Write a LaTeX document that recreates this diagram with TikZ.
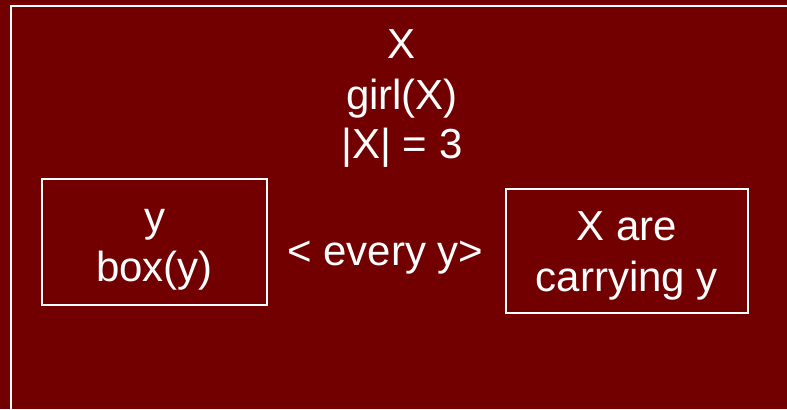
\documentclass[tikz,border=0pt]{standalone}
\usepackage{fontspec}
\setmainfont{Liberation Sans}
\definecolor{slidered}{RGB}{114,0,0}

\begin{document}
\begin{tikzpicture}[
    x=0.5pt,
    y=-0.5pt,
    textline/.style={
        text=white,
        font=\fontsize{21}{25}\selectfont,
        anchor=base,
        inner sep=0pt
    },
    box/.style={
        draw=white,
        line width=1pt,
        inner sep=0pt
    },
    frame/.style={
        draw=white,
        line width=1pt
    }
]

% Horizontal positions
\def\TopX{402}
\def\RestrX{154.5}
\def\ScopeX{626.85}

% ==================================================
% Slide background and frame
% ==================================================

\useasboundingbox[fill=slidered] (0,0) rectangle (787,409);

\draw[frame]
    (10.5,409) -- (10.5,6) -- (787,6);

% ==================================================
% Discourse referent
% ==================================================

\node[textline] (var) at (\TopX,58.3)
    {X};

\node[textline] (pred) at (\TopX,109.5)
    {girl(X)};

\node[textline] (card) at (\TopX,158.5)
    {|X| = 3};

% ==================================================
% Restrictor box
% ==================================================

\node[box, minimum width=112.8pt, minimum height=62.85pt]
    (restr) at (\RestrX,242.15) {};

\node[textline] (rvar) at (\RestrX,231.7)
    {y};

\node[textline] (rpred) at (\RestrX,281.7)
    {box(y)};

% ==================================================
% Quantifier
% ==================================================

\node[textline] (quant) at (385.5,265)
    {< every y>};

% ==================================================
% Scope box
% ==================================================

\node[box, minimum width=120.85pt, minimum height=62pt]
    (scope) at (\ScopeX,251.3) {};

\node[textline] (sfirst) at (\ScopeX,240.5)
    {X are};

\node[textline] (ssecond) at (\ScopeX,291.2)
    {carrying y};

\end{tikzpicture}
\end{document}
